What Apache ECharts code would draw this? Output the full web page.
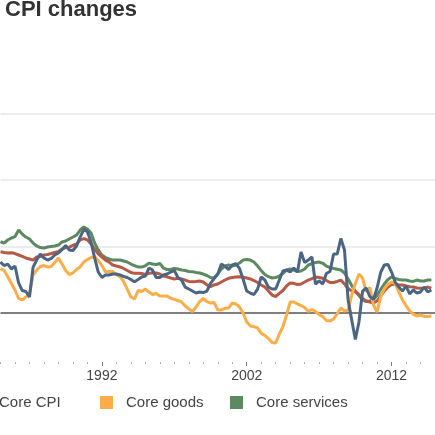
<!DOCTYPE html>
<html>
<head>
<meta charset="utf-8">
<title>CPI changes</title>
<script src="https://cdn.jsdelivr.net/npm/echarts@6/dist/echarts.min.js"></script>
<style>
  html, body { margin: 0; padding: 0; background: #fff; }
  #chart { width: 435px; height: 435px; }
</style>
</head>
<body>
<div id="chart"></div>
<script>
// quarterly readings, year-on-year % change, starting 1985 Q1
const startYear = 1985;
const stepYears = 0.25;

const headlineCpi = [
    3.83, 3.57, 3.68, 3.31, 3.53, 2.26, 1.69, 1.62, 1.20, 3.45,
    3.98, 4.44, 4.14, 3.98, 4.10, 4.36, 4.51, 4.77, 5.08, 4.74,
    4.70, 5.04, 5.71, 6.28, 6.11, 5.34, 4.14, 3.08, 2.67, 2.86,
    2.86, 2.93, 2.93, 2.86, 2.74, 2.67, 2.52, 2.35, 2.52, 2.71,
    2.78, 3.38, 3.23, 2.67, 2.67, 2.86, 2.93, 3.08, 3.20, 2.67,
    2.48, 1.95, 1.80, 1.65, 1.50, 1.58, 1.54, 1.65, 2.22, 2.59,
    2.93, 3.68, 3.50, 3.27, 3.61, 3.72, 3.35, 2.56, 1.65, 1.50,
    1.39, 1.80, 2.71, 2.48, 1.95, 1.80, 1.80, 2.48, 3.16, 3.23,
    3.08, 3.38, 3.08, 4.59, 3.80, 3.98, 4.21, 2.18, 2.41, 2.18,
    2.97, 3.12, 4.44, 4.44, 5.60, 4.74, 0.98, -0.53, -1.99, -0.68,
    1.65, 1.88, 1.24, 1.02, 1.88, 3.05, 3.61, 3.65, 3.08, 2.33,
    1.95, 1.65, 2.03, 1.43, 1.73, 1.50, 1.58, 1.95, 1.58, 1.73
];

const coreCpi = [
    4.61, 4.55, 4.51, 4.53, 4.47, 4.36, 4.25, 4.14, 4.06, 3.98,
    4.21, 4.25, 4.36, 4.40, 4.47, 4.55, 4.62, 4.81, 4.92, 4.95,
    5.08, 5.19, 5.49, 5.60, 5.49, 5.19, 4.81, 4.44, 4.21, 3.98,
    3.83, 3.61, 3.53, 3.46, 3.35, 3.20, 3.05, 2.98, 2.98, 2.97,
    2.89, 2.98, 3.02, 3.01, 2.93, 2.78, 2.72, 2.63, 2.56, 2.61,
    2.56, 2.48, 2.37, 2.35, 2.37, 2.41, 2.33, 2.11, 1.98, 2.11,
    2.18, 2.33, 2.48, 2.61, 2.67, 2.71, 2.72, 2.69, 2.63, 2.56,
    2.44, 2.29, 2.11, 1.95, 1.65, 1.35, 1.24, 1.47, 1.69, 2.03,
    2.26, 2.23, 2.14, 2.18, 2.33, 2.48, 2.59, 2.71, 2.67, 2.61,
    2.44, 2.29, 2.29, 2.37, 2.48, 2.18, 1.84, 1.65, 1.60, 1.39,
    1.09, 0.90, 0.83, 0.75, 0.90, 1.28, 1.65, 1.95, 2.14, 2.18,
    2.11, 2.11, 2.03, 1.98, 1.95, 1.88, 1.86, 1.88, 1.95, 1.86
];

const coreGoods = [
    3.35, 3.20, 2.74, 2.22, 1.73, 1.09, 0.98, 1.20, 1.43, 2.86,
    3.23, 3.50, 3.57, 3.46, 3.50, 3.80, 4.14, 3.68, 3.20, 2.89,
    3.01, 3.27, 3.46, 3.83, 4.02, 4.17, 4.23, 3.95, 3.57, 3.08,
    3.12, 3.12, 2.86, 2.74, 2.37, 1.80, 1.20, 1.05, 1.69, 1.62,
    1.80, 1.58, 1.39, 1.47, 1.28, 1.28, 1.28, 1.11, 1.02, 0.94,
    0.83, 0.53, 0.30, 0.11, 0.45, 0.86, 1.09, 0.86, 0.75, 0.79,
    0.23, 0.23, 0.35, 0.38, 0.75, 0.68, 0.45, 0.00, -0.68, -0.98,
    -1.03, -1.13, -1.53, -1.69, -1.92, -2.22, -2.26, -1.58, -1.02, -0.15,
    0.83, 0.83, 0.68, 0.56, 0.41, 0.11, 0.26, 0.11, -0.11, -0.28,
    -0.56, -0.60, -0.45, -0.04, 0.38, 0.15, 0.23, 1.35, 2.22, 2.93,
    2.63, 1.58, 1.92, 0.60, 0.08, 1.20, 1.84, 2.14, 2.33, 2.23,
    1.58, 0.98, 0.56, 0.15, -0.08, -0.23, -0.15, -0.26, -0.26, -0.23
];

const coreServices = [
    5.36, 5.26, 5.49, 5.64, 5.74, 6.24, 5.94, 5.71, 5.56, 5.26,
    5.04, 4.92, 4.89, 4.96, 5.00, 5.04, 5.11, 5.34, 5.41, 5.56,
    5.71, 5.86, 6.24, 6.47, 6.32, 6.02, 5.26, 4.74, 4.36, 4.17,
    4.06, 3.98, 3.98, 3.98, 3.91, 3.83, 3.68, 3.57, 3.46, 3.45,
    3.55, 3.75, 3.68, 3.65, 3.72, 3.38, 3.27, 3.27, 3.35, 3.31,
    3.23, 3.20, 3.12, 3.11, 3.05, 3.01, 2.93, 2.82, 2.67, 2.63,
    2.93, 3.31, 3.53, 3.61, 3.53, 3.61, 3.76, 3.98, 4.02, 3.98,
    3.83, 3.53, 3.20, 2.89, 2.73, 2.63, 2.67, 2.78, 2.97, 3.23,
    3.31, 3.23, 3.12, 3.16, 3.31, 3.61, 3.72, 3.80, 3.83, 3.74,
    3.53, 3.42, 3.35, 3.29, 3.23, 3.01, 2.56, 2.07, 1.65, 1.32,
    0.98, 0.86, 0.90, 1.02, 1.32, 1.77, 2.18, 2.52, 2.71, 2.59,
    2.52, 2.48, 2.48, 2.41, 2.37, 2.48, 2.41, 2.41, 2.48, 2.48
];

const labelYears = [1992, 2002, 2012];

const seriesDefs = [
    { name: 'Core services', values: coreServices, color: '#5b8a60' },
    { name: 'Core CPI', values: coreCpi, color: '#b65a45' },
    { name: 'Core goods', values: coreGoods, color: '#fdad47' },
    { name: 'CPI', values: headlineCpi, color: '#4b6684' }
];

// legend items sit in fixed slots; the headline one is off the left edge
const legendSlots = [
    { name: 'Core CPI', left: -27 },
    { name: 'Core goods', left: 100 },
    { name: 'Core services', left: 230 }
];

const FONT = 'Liberation Sans';

const chart = echarts.init(document.getElementById('chart'));

const baseXAxis = {
    type: 'value',
    min: 1985,
    max: 2015,
    position: 'bottom',
    offset: -17.5,
    axisLine: { show: false, onZero: false },
    splitLine: { show: false }
};

chart.setOption({
    animation: false,
    backgroundColor: '#fff',
    title: {
        text: 'CPI changes',
        left: 5,
        top: -1,
        padding: 0,
        textStyle: {
            color: '#333',
            fontSize: 22,
            fontWeight: 'bold',
            fontFamily: FONT
        }
    },
    legend: legendSlots.map((slot) => ({
        data: [slot.name],
        left: slot.left,
        top: 395,
        padding: 0,
        icon: 'rect',
        itemWidth: 13,
        itemHeight: 13,
        selectedMode: false,
        textStyle: {
            color: '#444',
            fontSize: 15,
            fontFamily: FONT,
            padding: [0, 0, 0, 8]
        }
    })),
    grid: {
        left: 0.5,
        right: -3.1,
        top: 113.5,
        bottom: 55.5
    },
    xAxis: [
        Object.assign({}, baseXAxis, {
            interval: 1,
            axisTick: { show: true, length: 2, lineStyle: { color: '#aaa', width: 1 } },
            axisLabel: { show: false }
        }),
        Object.assign({}, baseXAxis, {
            axisTick: {
                show: true,
                length: 4,
                customValues: labelYears,
                lineStyle: { color: '#777', width: 1 }
            },
            axisLabel: {
                customValues: labelYears,
                margin: 7,
                color: '#444',
                fontSize: 14,
                fontFamily: FONT,
                formatter: (v) => String(v)
            }
        })
    ],
    yAxis: {
        type: 'value',
        min: -5,
        max: 15,
        interval: 5,
        axisLine: { show: false },
        axisTick: { show: false },
        axisLabel: { show: false },
        splitLine: {
            show: true,
            lineStyle: {
                width: 1.5,
                color: ['rgba(0,0,0,0)', '#555', '#e6e6e6', '#e6e6e6', '#e6e6e6']
            }
        }
    },
    series: seriesDefs.map((s) => ({
        name: s.name,
        type: 'line',
        xAxisIndex: 0,
        symbol: 'none',
        smooth: false,
        data: s.values.map((v, i) => [startYear + i * stepYears, v]),
        lineStyle: { color: s.color, width: 3 },
        itemStyle: { color: s.color },
        emphasis: { disabled: true }
    }))
});
</script>
</body>
</html>
